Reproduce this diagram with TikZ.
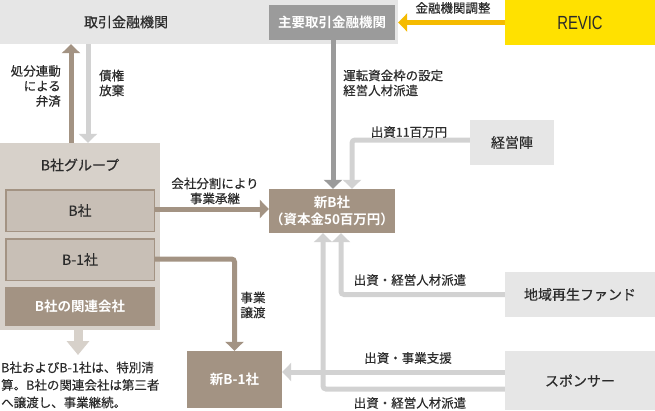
\documentclass[tikz,border=0pt]{standalone}
\usepackage{fontspec}
\setmainfont{Noto Sans CJK JP}[BoldFont={Noto Sans CJK JP Bold}]
\newfontfamily\medfont{Noto Sans CJK JP}[FakeBold=0.35]
\newfontfamily\revicfont{Liberation Sans}
\usetikzlibrary{arrows.meta,positioning}
\definecolor{bandgray}{HTML}{E6E6E6}
\definecolor{maingray}{HTML}{9B9B9B}
\definecolor{revicyel}{HTML}{FFE100}
\definecolor{yelarrow}{HTML}{F5BB00}
\definecolor{lightarrow}{HTML}{D2D2D2}
\definecolor{brownc}{HTML}{A39383}
\definecolor{groupc}{HTML}{D7D1CA}
\definecolor{subc}{HTML}{C8BFB6}
\definecolor{txt}{HTML}{2B2B2B}
\tikzset{
  box/.style={inner sep=0pt, align=center, text=txt, font=\medfont\fontsize{14}{16}\selectfont},
  wbox/.style={inner sep=0pt, align=center, text=white, font=\bfseries\fontsize{13.5}{17}\selectfont},
  lbl/.style={inner sep=0pt, text=txt, font=\medfont\fontsize{12.5}{15}\selectfont},
  arr/.style={line width=5pt, -{Triangle[width=18pt,length=9pt]}},
}
\begin{document}
\begin{tikzpicture}[x=1pt,y=-1pt]
\useasboundingbox (0,0) rectangle (655,410);
% boxes
\node[box, fill=bandgray, minimum width=398pt, minimum height=44pt] (band) at (199,22) {};
\node[box] (bandtxt) at (126,22) {取引金融機関};
\node[wbox, fill=maingray, minimum width=126pt, minimum height=35pt] (main) at (332,22.5) {主要取引金融機関};
\node[box, fill=revicyel, minimum width=150pt, minimum height=45pt, font=\revicfont\fontsize{19}{20}\selectfont] (revic) at (580,22.5) {\scalebox{0.78}[1]{REVIC}};
\node[wbox, fill=brownc, minimum width=126pt, minimum height=44pt] (newB) at (332,211) {新B社\\（資本金50百万円）};
\node[box, fill=bandgray, minimum width=84pt, minimum height=45pt] (keiei) at (512,142.5) {経営陣};
\node[box, fill=bandgray, minimum width=150pt, minimum height=45pt] (fund) at (580,294.5) {地域再生ファンド};
\node[box, fill=bandgray, minimum width=150pt, minimum height=59pt] (sponsor) at (580,380.5) {スポンサー};
\node[wbox, fill=brownc, minimum width=95pt, minimum height=57pt] (newB1) at (234.5,379.5) {新B-1社};
\node[box, fill=groupc, minimum width=160pt, minimum height=187pt] (group) at (80,236.5) {};
\node[box] (grouptxt) at (80,165) {B社グループ};
\node[box, fill=subc, draw=brownc, line width=1.5pt, minimum width=148.5pt, minimum height=41.5pt] (bsha) at (80,210.5) {B社};
\node[box, fill=subc, draw=brownc, line width=1.5pt, minimum width=148.5pt, minimum height=41.5pt] (b1) at (80,259.5) {B-1社};
\node[wbox, fill=brownc, minimum width=150pt, minimum height=39pt] (kanren) at (80,306.5) {B社の関連会社};
% arrows
\draw[arr, draw=yelarrow, -{Triangle[width=18pt,length=9pt,fill=yelarrow]}] (revic.west) -- (revic.west -| band.east);
\draw[arr, draw=maingray] ([xshift=1pt]main.south) -- ([xshift=1pt]newB.north);
\draw[arr, draw=lightarrow, rounded corners=3pt] ([yshift=2.5pt]keiei.west) -| ([xshift=20pt]newB.north);
\draw[arr, draw=lightarrow, rounded corners=3pt] (fund.west) -| ([xshift=9pt]newB.south);
\draw[arr, draw=lightarrow, rounded corners=3pt] ([yshift=-8.5pt]sponsor.west) -| ([xshift=-9pt]newB.south);
\draw[arr, draw=lightarrow] ([yshift=8.5pt]sponsor.west) -- ([yshift=8.5pt]sponsor.west -| newB1.east);
\draw[arr, draw=brownc] ([yshift=1.5pt]bsha.east) -- ([yshift=1.5pt]bsha.east -| newB.west);
\draw[arr, draw=brownc, rounded corners=3pt] ([yshift=0.5pt]b1.east) -| (newB1.north);
\draw[arr, draw=brownc] ([xshift=-9pt]group.north) -- ([xshift=-9pt]group.north |- band.south);
\draw[arr, draw=lightarrow] ([xshift=8pt]group.north |- band.south) -- ([xshift=8pt]group.north);
\coordinate (gdown) at (78,355);
\draw[line width=9pt, draw=groupc, -{Triangle[width=22pt,length=14pt]}] (group.south -| gdown) -- (gdown);
% labels
\node[lbl] (l1) at (453,8) {金融機関調整};
\node[lbl, anchor=west, align=left] (l2) at (343,83) {運転資金枠の設定\\経営人材派遣};
\node[lbl] (l3) at (409,132) {出資11百万円};
\node[lbl] (l4) at (410,280) {出資・経営人材派遣};
\node[lbl] (l5) at (408,358) {出資・事業支援};
\node[lbl] (l6) at (410,403) {出資・経営人材派遣};
\node[lbl, align=center] (l7) at (215,191) {会社分割により\\事業承継};
\node[lbl, align=center] (l8) at (253,305) {事業\\譲渡};
\node[lbl, anchor=east, align=right] (l9) at (61,86) {処分連動\\による\\弁済};
\node[lbl, anchor=west, align=left] (l10) at (99,83) {債権\\放棄};
\node[lbl, anchor=west, align=left, font=\medfont\fontsize{12.5}{17.5}\selectfont] (l11) at (1,385) {B社およびB-1社は、特別清\\算。B社の関連会社は第三者\\へ譲渡し、事業継続。};
\end{tikzpicture}
\end{document}
